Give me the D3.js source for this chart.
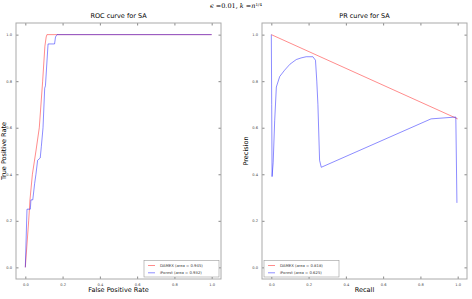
<!DOCTYPE html>
<html>
<head>
<meta charset="utf-8">
<script src="https://cdn.jsdelivr.net/npm/d3@7"></script>
<style>
  body { margin: 0; background: #fff; }
  text { font-family: "DejaVu Sans", sans-serif; }
  .tick text { font-size: 3.6px; fill: #444; }
  .tick line { stroke: #888; }
  .domain { display: none; }
</style>
</head>
<body>
<script>
// ROC points [fpr, tpr]
var rocDamex = [[0, 0], [0.018, 0.2], [0.025, 0.29], [0.038, 0.4], [0.057, 0.5], [0.075, 0.6],
  [0.093, 0.8], [0.105, 0.95], [0.112, 0.99], [0.116, 1.0], [1, 1]];
var rocIforest = [[0, 0], [0.009, 0.25], [0.027, 0.25], [0.03, 0.29], [0.04, 0.29], [0.05, 0.36],
  [0.057, 0.4], [0.066, 0.46], [0.08, 0.47], [0.086, 0.52], [0.095, 0.6], [0.104, 0.77],
  [0.108, 0.78], [0.122, 0.96], [0.157, 0.96], [0.162, 0.99], [0.17, 1.0], [1, 1]];
// PR points [recall, precision]
var prDamex = [[0, 1.0], [1.0, 0.638]];
var prIforest = [[0, 1.0], [0.002, 0.7], [0.004, 0.39], [0.01, 0.45], [0.018, 0.63], [0.027, 0.775],
  [0.045, 0.82], [0.071, 0.847], [0.1, 0.873], [0.134, 0.893], [0.16, 0.9], [0.187, 0.905],
  [0.223, 0.905], [0.237, 0.89], [0.244, 0.8], [0.25, 0.70], [0.259, 0.46], [0.268, 0.43],
  [0.857, 0.638], [0.99, 0.646], [0.996, 0.277]];
var ticks = [0, 0.2, 0.4, 0.6, 0.8, 1.0];
var rocLegend = ["DAMEX (area = 0.945)", "iForest (area = 0.932)"];
var prLegend = ["DAMEX (area = 0.818)", "iForest (area = 0.625)"];

var red = "rgba(255,0,0,0.5)", blue = "rgba(0,0,255,0.5)";

var svg = d3.select("body").append("svg")
  .attr("width", 472)
  .attr("height", 299);

// super title
var sup = svg.append("text")
  .attr("x", 236).attr("y", 8)
  .attr("text-anchor", "middle")
  .style("font-family", "'DejaVu Serif', serif")
  .style("font-size", "6.5px");
sup.append("tspan").style("font-style", "italic").text("ϵ");
sup.append("tspan").text(" =0.01, ");
sup.append("tspan").style("font-style", "italic").text("k");
sup.append("tspan").text(" =");
sup.append("tspan").style("font-style", "italic").text("n");
sup.append("tspan").attr("dy", -2.5).style("font-size", "4px").text("1/4");

function panel(opts) {
  var w = 205, h = 256;
  var x = d3.scaleLinear().domain([-0.05, 1.05]).range([0, w]);
  var y = d3.scaleLinear().domain([-0.05, 1.05]).range([h, 0]);
  var g = svg.append("g").attr("transform", "translate(" + opts.left + ",23)");

  g.append("g").attr("transform", "translate(0," + h + ")")
    .call(d3.axisBottom(x).tickValues(ticks).tickFormat(d3.format(".1f")).tickSizeInner(-2.5).tickPadding(4.5));
  g.append("g").call(d3.axisTop(x).tickValues(ticks).tickFormat("").tickSizeInner(-2.5));
  g.append("g")
    .call(d3.axisLeft(y).tickValues(ticks).tickFormat(d3.format(".1f")).tickSizeInner(-2.5).tickPadding(4));
  g.append("g").attr("transform", "translate(" + w + ",0)")
    .call(d3.axisRight(y).tickValues(ticks).tickFormat("").tickSizeInner(-2.5));

  g.append("rect")
    .attr("width", w).attr("height", h)
    .style("fill", "none").style("stroke", "#aaa").style("stroke-width", 1);

  var line = d3.line()
    .x(function (d) { return x(d[0]); })
    .y(function (d) { return y(d[1]); });

  g.append("path").datum(opts.a).attr("d", line)
    .style("fill", "none").style("stroke", red).style("stroke-width", 0.9);
  g.append("path").datum(opts.b).attr("d", line)
    .style("fill", "none").style("stroke", blue).style("stroke-width", 0.9);

  g.append("text").attr("x", w / 2).attr("y", -5)
    .attr("text-anchor", "middle").style("font-size", "6.5px").text(opts.title);
  g.append("text").attr("x", w / 2).attr("y", h + 13)
    .attr("text-anchor", "middle").style("font-size", "6.5px").text(opts.xlabel);
  g.append("text")
    .attr("transform", "translate(" + opts.ylabelX + "," + (h / 2) + ") rotate(-90)")
    .attr("text-anchor", "middle").style("font-size", "6.5px").text(opts.ylabel);

  // legend
  var lg = g.append("g").attr("transform", "translate(" + opts.legX + "," + (h - 18.5) + ")");
  lg.append("rect").attr("width", 75).attr("height", 16.5)
    .style("fill", "#fff").style("stroke", "#999").style("stroke-width", 0.6);
  [red, blue].forEach(function (c, i) {
    var yy = 5 + i * 7.3;
    lg.append("line").attr("x1", 4).attr("x2", 11).attr("y1", yy).attr("y2", yy)
      .style("stroke", c).style("stroke-width", 0.9);
    lg.append("text").attr("x", 16).attr("y", yy + 1.4)
      .style("font-size", "3.8px").style("fill", "#333").text(opts.legend[i]);
  });
}

panel({ left: 16, a: rocDamex, b: rocIforest, title: "ROC curve for SA",
  xlabel: "False Positive Rate", ylabel: "True Positive Rate", ylabelX: -10, legX: 128, legend: rocLegend });
panel({ left: 262, a: prDamex, b: prIforest, title: "PR curve for SA",
  xlabel: "Recall", ylabel: "Precision", ylabelX: -14, legX: 2, legend: prLegend });
</script>
</body>
</html>
